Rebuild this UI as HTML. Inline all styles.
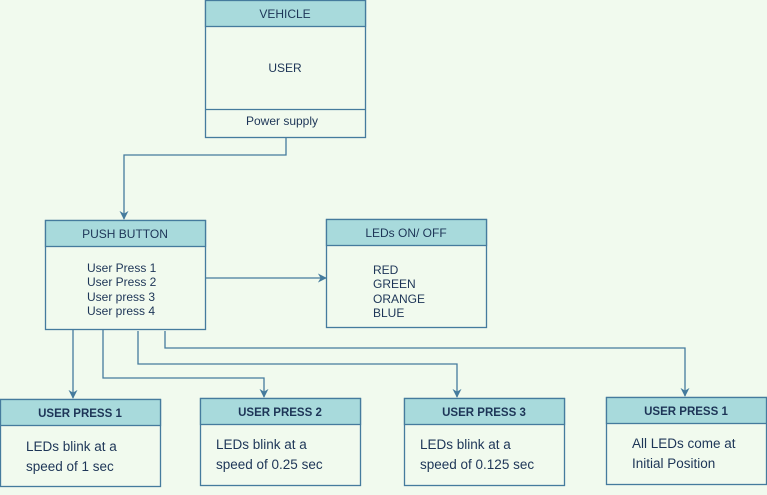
<!DOCTYPE html>
<html><head><meta charset="utf-8"><style>
html,body{margin:0;padding:0;background:#f1faee;}
svg{display:block;font-family:"Liberation Sans",sans-serif;}
</style></head><body>
<svg width="767" height="495" viewBox="0 0 767 495" xmlns="http://www.w3.org/2000/svg">
<defs><marker id="a" markerWidth="8" markerHeight="8" refX="4" refY="7" orient="auto" markerUnits="userSpaceOnUse"><path d="M0,1 L4,7 L8,1 L4,3 Z" fill="#457b9d" transform="rotate(-90 4 4)"/></marker>
<marker id="d" viewBox="0 0 10 10" refX="9" refY="5" markerWidth="9" markerHeight="9" orient="auto" markerUnits="userSpaceOnUse"><path d="M0,0 L10,5 L0,10 L3,5 Z" fill="#457b9d"/></marker></defs>
<g fill="none" stroke="#457b9d" stroke-width="1.3">
<path d="M286,137 V155 H124 V219" marker-end="url(#d)"/>
<path d="M205,278 H326" marker-end="url(#d)"/>
<path d="M73,329 V398" marker-end="url(#d)"/>
<path d="M103,329 V378 H264 V397" marker-end="url(#d)"/>
<path d="M138,331 V364 H457 V397" marker-end="url(#d)"/>
<path d="M165,331 V348 H685 V396" marker-end="url(#d)"/>
</g>
<g stroke="#457b9d" stroke-width="1.3">
<rect x="205.5" y="0.5" width="160" height="137" fill="#f1faee"/>
<rect x="205.5" y="0.5" width="160" height="26" fill="#a8dadc"/>
<line x1="205.5" y1="109.5" x2="365.5" y2="109.5"/>
<rect x="45.5" y="220.5" width="160" height="109" fill="#f1faee"/>
<rect x="45.5" y="220.5" width="160" height="26" fill="#a8dadc"/>
<rect x="326.5" y="219.5" width="160" height="108" fill="#f1faee"/>
<rect x="326.5" y="219.5" width="160" height="26" fill="#a8dadc"/>
<rect x="0.5" y="399.5" width="160" height="87" fill="#f1faee"/>
<rect x="0.5" y="399.5" width="160" height="26" fill="#a8dadc"/>
<rect x="200.5" y="398.5" width="160" height="87" fill="#f1faee"/>
<rect x="200.5" y="398.5" width="160" height="26" fill="#a8dadc"/>
<rect x="404.5" y="398.5" width="160" height="87" fill="#f1faee"/>
<rect x="404.5" y="398.5" width="160" height="26" fill="#a8dadc"/>
<rect x="606.5" y="397.5" width="160" height="87" fill="#f1faee"/>
<rect x="606.5" y="397.5" width="160" height="26" fill="#a8dadc"/>
</g>
<g fill="#1d3557" font-size="12">
<text x="285" y="18" text-anchor="middle">VEHICLE</text>
<text x="285" y="72" text-anchor="middle">USER</text>
<text x="282" y="125" text-anchor="middle">Power supply</text>
<text x="125" y="238" text-anchor="middle">PUSH BUTTON</text>
<text x="87" y="272">User Press 1</text>
<text x="87" y="286">User Press 2</text>
<text x="87" y="301">User press 3</text>
<text x="87" y="315">User press 4</text>
<text x="406" y="237" text-anchor="middle">LEDs ON/ OFF</text>
<text x="373" y="274">RED</text>
<text x="373" y="288">GREEN</text>
<text x="373" y="303">ORANGE</text>
<text x="373" y="317">BLUE</text>
<g font-weight="bold" font-size="11.5" text-anchor="middle">
<text x="80" y="417">USER PRESS 1</text>
<text x="280" y="416">USER PRESS 2</text>
<text x="484" y="416">USER PRESS 3</text>
<text x="686" y="415">USER PRESS 1</text>
</g>
<g font-size="13.5">
<text x="26" y="451">LEDs blink at a</text>
<text x="26" y="471">speed of 1 sec</text>
<text x="216" y="449">LEDs blink at a</text>
<text x="216" y="469">speed of 0.25 sec</text>
<text x="420" y="449">LEDs blink at a</text>
<text x="420" y="469">speed of 0.125 sec</text>
<text x="632" y="448">All LEDs come at</text>
<text x="632" y="468">Initial Position</text>
</g>
</g>
</svg>
</body></html>
